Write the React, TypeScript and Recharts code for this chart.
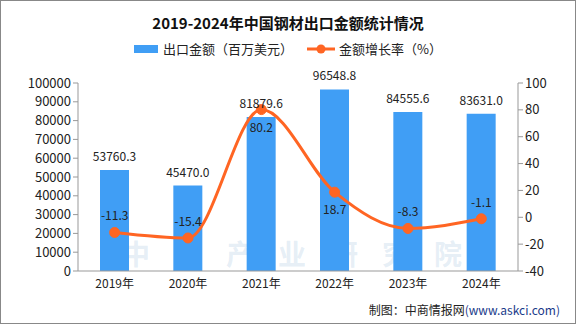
import { ComposedChart, Bar, Line, XAxis, YAxis, LabelList } from 'recharts';

const years = ['2019年', '2020年', '2021年', '2022年', '2023年', '2024年'];
const exportValue = [53760.3, 45470.0, 81879.6, 96548.8, 84555.6, 83631.0];
const growthRate = [-11.3, -15.4, 80.2, 18.7, -8.3, -1.1];
const leftTicks = [0, 10000, 20000, 30000, 40000, 50000, 60000, 70000, 80000, 90000, 100000];
const rightTicks = [-40, -20, 0, 20, 40, 60, 80, 100];
// boundaries between categories, for the x-axis tick marks
const bandEdges = [0, 1, 2, 3, 4, 5, 6];
// where each growth label sits relative to its point
const rateLabelSide = ['top', 'top', 'bottom', 'bottom', 'top', 'top'];

const data = years.map((y, i) => ({ year: y, value: exportValue[i], rate: growthRate[i] }));

const BAR = '#409ef5';
const LINE = '#ff6523';
const AXIS = '#999';
const font = '"Noto Sans CJK SC", "Noto Sans", sans-serif';

const RateLabel = (props: any) => {
  const { x, y, value, index } = props;
  const below = rateLabelSide[index] === 'bottom';
  return (
    <text x={x} y={below ? y + 22 : y - 12} textAnchor="middle" fontSize={12} fill="#222" fontFamily={font}>
      {value.toFixed(1)}
    </text>
  );
};

const App = () => {
  return (
    <div style={{ position: 'absolute', left: 0, top: 0, width: 576, height: 324, background: '#fff', fontFamily: font }}>
      <div style={{ position: 'absolute', inset: 0, border: '1px solid #888', boxSizing: 'border-box' }} />
      <div style={{ position: 'absolute', top: 12, width: 576, textAlign: 'center', fontSize: 15, fontWeight: 'bold', color: '#111', fontFamily: '"Noto Sans CJK SC", serif' }}>
        2019-2024年中国钢材出口金额统计情况
      </div>
      <div style={{ position: 'absolute', top: 39, left: 0, width: 576, display: 'flex', justifyContent: 'center', alignItems: 'center', fontSize: 13, color: '#222' }}>
        <span style={{ display: 'inline-block', width: 24, height: 8, background: BAR, marginRight: 5 }} />
        <span style={{ marginRight: 14 }}>出口金额（百万美元）</span>
        <svg width={28} height={12} style={{ marginRight: 4 }}>
          <line x1={0} y1={6} x2={28} y2={6} stroke={LINE} strokeWidth={3} />
          <circle cx={14} cy={6} r={4.5} fill={LINE} />
        </svg>
        <span>金额增长率（%）</span>
      </div>
      <div style={{ position: 'absolute', left: 122, top: 239, fontSize: 28, lineHeight: '28px', fontWeight: 'bold', color: 'rgba(170,200,225,0.3)', letterSpacing: 24, whiteSpace: 'nowrap' }}>
        中商产业研究院
      </div>
      <ComposedChart width={576} height={324} data={data} margin={{ top: 83, right: 0, bottom: 0, left: 0 }} style={{ position: 'absolute', left: 0, top: 0 }}>
        <XAxis
          xAxisId="edges"
          type="number"
          domain={[0, 6]}
          ticks={bandEdges}
          interval={0}
          height={0}
          axisLine={false}
          tickLine={{ stroke: AXIS }}
          tickSize={5}
          tick={() => null}
        />
        <XAxis
          dataKey="year"
          height={53}
          stroke={AXIS}
          interval={0}
          tick={{ fill: '#222', fontSize: 12, fontFamily: font }}
          tickLine={false}
        />
        <YAxis
          yAxisId="left"
          width={78}
          domain={[0, 100000]}
          ticks={leftTicks}
          interval={0}
          stroke={AXIS}
          tickSize={5}
          tick={{ fill: '#222', fontSize: 13, fontFamily: font }}
        />
        <YAxis
          yAxisId="right"
          orientation="right"
          width={58}
          domain={[-40, 100]}
          ticks={rightTicks}
          interval={0}
          stroke={AXIS}
          tickSize={5}
          tick={{ fill: '#222', fontSize: 13, fontFamily: font }}
        />
        <Bar yAxisId="left" dataKey="value" fill={BAR} barSize={29} isAnimationActive={false}>
          <LabelList
            dataKey="value"
            position="top"
            offset={9}
            formatter={(v: any) => Number(v).toFixed(1)}
            style={{ fill: '#222', fontSize: 12, fontFamily: font }}
          />
        </Bar>
        <Line
          yAxisId="right"
          type="monotone"
          dataKey="rate"
          stroke={LINE}
          strokeWidth={3}
          dot={{ r: 5, fill: LINE, stroke: LINE, strokeWidth: 1 }}
          isAnimationActive={false}
        >
          <LabelList dataKey="rate" content={RateLabel} />
        </Line>
      </ComposedChart>
      <div style={{ position: 'absolute', right: 16, top: 301, fontSize: 12, color: '#222' }}>
        制图：中商情报网<span style={{ color: '#1a3a8a' }}>(www.askci.com)</span>
      </div>
    </div>
  );
};

export default App;
